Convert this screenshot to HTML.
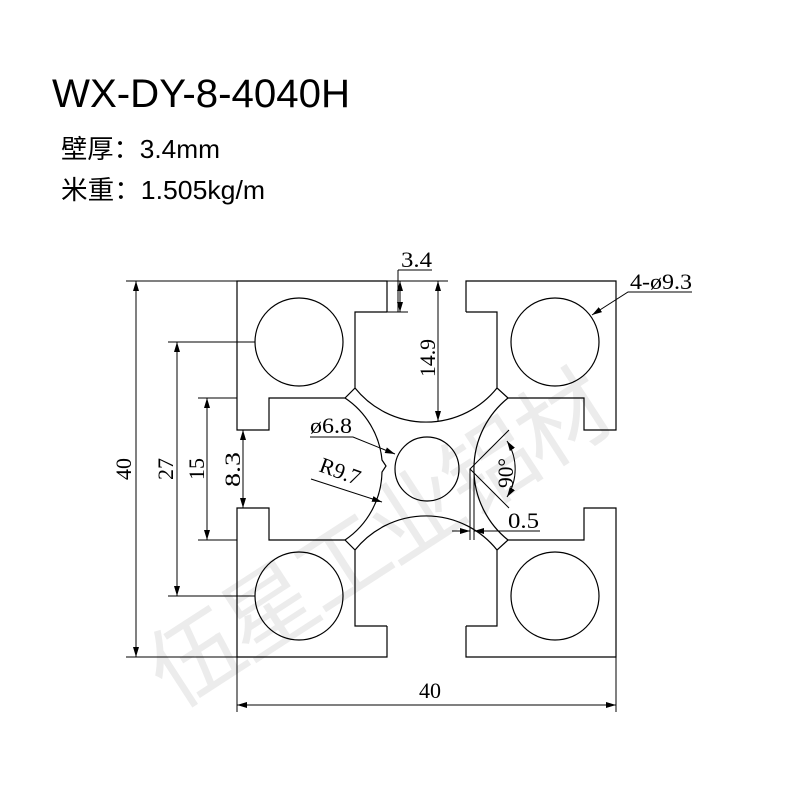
<!DOCTYPE html>
<html><head><meta charset="utf-8"><style>
html,body{margin:0;padding:0;background:#fff;width:800px;height:800px;overflow:hidden}
</style></head><body>
<svg width="800" height="800" viewBox="0 0 800 800" xmlns="http://www.w3.org/2000/svg">
<defs>
<marker id="a" viewBox="0 0 10 6" refX="10" refY="3" markerWidth="10" markerHeight="6" markerUnits="userSpaceOnUse" orient="auto-start-reverse"><path d="M0 0L10 3L0 6z" fill="#000"/></marker>
</defs>
<rect width="800" height="800" fill="#fff"/>
<!-- watermark -->
<text x="0" y="0" transform="translate(175,710) rotate(-33)" font-family="'Noto Sans CJK SC',sans-serif" font-size="92" fill="#ececec" textLength="530" lengthAdjust="spacing">伍星工业铝材</text>

<!-- header -->
<text x="52" y="107" font-family="'Liberation Sans',sans-serif" font-size="40" fill="#000" textLength="298" lengthAdjust="spacingAndGlyphs">WX-DY-8-4040H</text>
<text x="61" y="158" font-family="'Liberation Sans','Noto Sans CJK SC',sans-serif" font-size="26" fill="#000" textLength="159" lengthAdjust="spacingAndGlyphs">壁厚：3.4mm</text>
<text x="61" y="199" font-family="'Liberation Sans','Noto Sans CJK SC',sans-serif" font-size="26" fill="#000" textLength="204" lengthAdjust="spacingAndGlyphs">米重：1.505kg/m</text>

<g fill="none" stroke="#000" stroke-width="1.2">
<polyline points="387,312 387,281 237,281 237,430 269,430 269,398 345,398 355,388 355,312 387,312"/>
<polyline points="466,312 466,281 616,281 616,430 584,430 584,398 508,398 497,388 497,312 466,312"/>
<polyline points="387,626 387,657 237,657 237,508 269,508 269,540 345,540 355,550 355,626 387,626"/>
<polyline points="466,626 466,657 616,657 616,508 584,508 584,540 508,540 497,550 497,626 466,626"/>
<path d="M355 388 A91 91 0 0 0 497 388"/>
<path d="M355 550 A91 91 0 0 1 497 550"/>
<path d="M345 398 A84 84 0 0 1 382 460 L386 466 L382 472 A84 84 0 0 1 345 540"/>
<path d="M508 398 A91 91 0 0 0 508 540"/>
<circle cx="299" cy="342" r="44"/>
<circle cx="555" cy="342" r="44"/>
<circle cx="299" cy="596" r="44"/>
<circle cx="555" cy="596" r="44"/>
<circle cx="427" cy="469" r="32"/>
</g>

<g fill="none" stroke="#000" stroke-width="1">
<line x1="237" y1="657" x2="237" y2="712"/>
<line x1="616" y1="657" x2="616" y2="712"/>
<line x1="126" y1="281" x2="237" y2="281"/>
<line x1="126" y1="657" x2="237" y2="657"/>
<line x1="168" y1="342" x2="255" y2="342"/>
<line x1="168" y1="596" x2="255" y2="596"/>
<line x1="198" y1="398" x2="237" y2="398"/>
<line x1="198" y1="540" x2="237" y2="540"/>
<line x1="387" y1="281" x2="448" y2="281"/>
<line x1="387" y1="312" x2="408" y2="312"/>
<line x1="398" y1="270" x2="398" y2="312"/>
<line x1="398" y1="270" x2="432" y2="270"/>
<line x1="237" y1="705" x2="616" y2="705" marker-start="url(#a)" marker-end="url(#a)"/>
<line x1="136" y1="281" x2="136" y2="657" marker-start="url(#a)" marker-end="url(#a)"/>
<line x1="177" y1="342" x2="177" y2="596" marker-start="url(#a)" marker-end="url(#a)"/>
<line x1="207" y1="398" x2="207" y2="540" marker-start="url(#a)" marker-end="url(#a)"/>
<line x1="243" y1="430" x2="243" y2="508" marker-start="url(#a)" marker-end="url(#a)"/>
<line x1="438" y1="281" x2="438" y2="421" marker-start="url(#a)" marker-end="url(#a)"/>
<line x1="400" y1="281" x2="400" y2="312" marker-start="url(#a)" marker-end="url(#a)"/>
<polyline points="692,292 628,292 592,315" marker-end="url(#a)"/>
<polyline points="310,437 353,437 395,454" marker-end="url(#a)"/>
<line x1="311" y1="479" x2="382" y2="502" marker-end="url(#a)"/>
<polyline points="509,430 470,469 509,508"/>
<path d="M507 441 A52 52 0 0 1 507 497" marker-start="url(#a)" marker-end="url(#a)"/>
<line x1="470" y1="469" x2="470" y2="540"/>
<line x1="474" y1="475" x2="474" y2="540"/>
<line x1="452" y1="531" x2="470" y2="531" marker-end="url(#a)"/>
<line x1="540" y1="531" x2="474" y2="531" marker-end="url(#a)"/>
</g>

<g font-family="'Liberation Serif',serif" font-size="22" fill="#000">
<text x="419" y="698" textLength="22" lengthAdjust="spacingAndGlyphs">40</text>
<text transform="translate(131,480) rotate(-90)" textLength="22" lengthAdjust="spacingAndGlyphs">40</text>
<text transform="translate(173,480) rotate(-90)" textLength="22" lengthAdjust="spacingAndGlyphs">27</text>
<text transform="translate(204,480) rotate(-90)" textLength="22" lengthAdjust="spacingAndGlyphs">15</text>
<text transform="translate(240,487) rotate(-90)" textLength="35" lengthAdjust="spacingAndGlyphs">8.3</text>
<text transform="translate(435,377) rotate(-90)" textLength="38" lengthAdjust="spacingAndGlyphs">14.9</text>
<text x="401" y="267" textLength="31" lengthAdjust="spacingAndGlyphs">3.4</text>
<text x="630" y="289" textLength="62" lengthAdjust="spacingAndGlyphs">4-ø9.3</text>
<text x="310" y="433" textLength="42" lengthAdjust="spacingAndGlyphs">ø6.8</text>
<text transform="translate(318,471) rotate(20)" textLength="42" lengthAdjust="spacingAndGlyphs">R9.7</text>
<text transform="translate(513,488) rotate(-90)" textLength="30" lengthAdjust="spacingAndGlyphs">90°</text>
<text x="508" y="528" textLength="31" lengthAdjust="spacingAndGlyphs">0.5</text>
</g>
</svg>
</body></html>
